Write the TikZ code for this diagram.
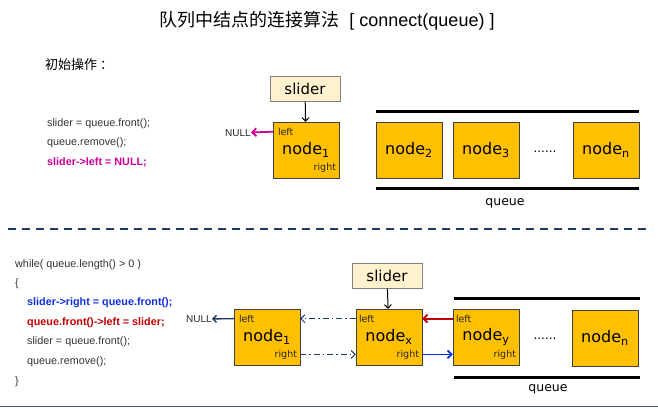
\documentclass[tikz,border=0pt]{standalone}
\usepackage{fontspec}
\setmainfont{Liberation Sans}
\newfontfamily\nodefont{DejaVu Sans}
\newfontfamily\cjkfont{Noto Sans CJK SC}
\usepackage{xcolor}
\definecolor{nodeamber}{HTML}{FFC000}
\definecolor{sliderfill}{HTML}{FFF2CC}
\definecolor{codemag}{HTML}{CC0099}
\definecolor{codeblue}{HTML}{1030E0}
\definecolor{codered}{HTML}{C00000}
\definecolor{navy}{HTML}{1F3864}
\definecolor{rulegray}{HTML}{4F5F6F}
\usetikzlibrary{positioning,arrows.meta}
\tikzset{
  qnode/.style ={rectangle, draw=black!75, fill=nodeamber, minimum width=66pt,
                 minimum height=56pt, inner sep=0pt, font=\nodefont\fontsize{16}{18}\selectfont},
  sbox/.style  ={rectangle, draw=black!50, fill=sliderfill, minimum width=70pt,
                 minimum height=25pt, inner sep=0pt, font=\nodefont\fontsize{15}{17}\selectfont},
  ptr/.style   ={font=\nodefont\fontsize{9.5}{10}\selectfont, text=black!85, inner sep=0pt},
  nul/.style   ={font=\fontsize{10}{11}\selectfont, text=black!85, inner sep=0pt, anchor=east},
  code/.style  ={font=\fontsize{10.8}{12}\selectfont, text=black!80, anchor=west, inner sep=0pt},
  qlbl/.style  ={font=\nodefont\fontsize{12.5}{14}\selectfont, inner sep=0pt},
  dots/.style  ={font=\nodefont\fontsize{12}{14}\selectfont, inner sep=0pt},
  rail/.style  ={line width=3pt},
  arr/.style   ={-{Straight Barb[length=4pt,width=8pt]}, line width=1.8pt},
  larr/.style  ={-{Straight Barb[length=3.5pt,width=7pt]}, line width=1pt},
  ddarr/.style ={-{Straight Barb[length=4pt,width=8pt]}, line width=1pt, navy,
                 dash pattern=on 6pt off 3pt on 1.5pt off 3pt},
}
\begin{document}
\begin{tikzpicture}[x=1pt,y=-1pt]
  \useasboundingbox (0,0) rectangle (658,409);
  % title and section heads
  \node[inner sep=0pt, font=\fontsize{18}{20}\selectfont] (title) at (327,21)
    {{\cjkfont 队列中结点的连接算法}\ \ [ connect(queue) ]};
  \node[inner sep=0pt, anchor=west, font=\cjkfont\fontsize{13}{15}\selectfont] (init) at (45,65) {初始操作\ ：};

  % --- initial step ---
  \node[code] (c1) at (47,124) {slider = queue.front();};
  \node[code] (c2) at (47,143) {queue.remove();};
  \node[code, text=codemag, font=\bfseries\fontsize{10.8}{12}\selectfont] (c3) at (47,162) {slider->left = NULL;};

  \node[sbox] (slidA) at (305,89) {slider};
  \node[qnode] (na1) at (306,150) {node\textsubscript{1}};
  \node[ptr, anchor=north west] (na1l) at ([xshift=5pt,yshift=-6pt]na1.north west) {left};
  \node[ptr, anchor=south east] (na1r) at ([xshift=-3pt,yshift=6pt]na1.south east) {right};
  \node[nul] (nullA) at (251,133) {NULL};
  \draw[larr] (slidA) -- (na1);
  \draw[arr, codemag] (na1.west |- na1l) -- (nullA);

  \node[qnode] (na2) at (409,150) {node\textsubscript{2}};
  \node[qnode] (na3) at (486,150) {node\textsubscript{3}};
  \node[dots] (dotsA) at (545,152) {......};
  \node[qnode] (nan) at (606,150) {node\textsubscript{n}};
  \coordinate (railA1) at (376,112);
  \coordinate (railA2) at (639,112);
  \coordinate (railA3) at (376,188);
  \coordinate (railA4) at (639,188);
  \draw[rail] (railA1) -- (railA2);
  \draw[rail] (railA3) -- (railA4);
  \node[qlbl] (queueA) at (505,203) {queue};

  % divider
  \coordinate (divL) at (8,229);
  \coordinate (divR) at (652,229);
  \draw[navy, line width=2.2pt, dash pattern=on 8pt off 6pt] (divL) -- (divR);

  % --- loop step ---
  \node[code] (w1) at (15,265) {while( queue.length() > 0 )};
  \node[code] (w2) at (15,284) {\{};
  \node[code, text=codeblue, font=\bfseries\fontsize{10.8}{12}\selectfont] (w3) at (27,303) {slider->right = queue.front();};
  \node[code, text=codered, font=\bfseries\fontsize{10.8}{12}\selectfont] (w4) at (27,323) {queue.front()->left = slider;};
  \node[code] (w5) at (27,342) {slider = queue.front();};
  \node[code] (w6) at (27,362) {queue.remove();};
  \node[code] (w7) at (15,382) {\}};

  \node[qnode] (nb1) at (267,337) {node\textsubscript{1}};
  \node[ptr, anchor=north west] (nb1l) at ([xshift=5pt,yshift=-6pt]nb1.north west) {left};
  \node[ptr, anchor=south east] (nb1r) at ([xshift=-3pt,yshift=6pt]nb1.south east) {right};
  \node[nul] (nullB) at (212,319) {NULL};
  \draw[larr, navy, line width=1.4pt] (nb1.west |- nb1l) -- (nullB);

  \node[sbox] (slidB) at (387,276) {slider};
  \node[qnode] (nbx) at (389,337) {node\textsubscript{x}};
  \node[ptr, anchor=north west] (nbxl) at ([xshift=3pt,yshift=-6pt]nbx.north west) {left};
  \node[ptr, anchor=south east] (nbxr) at ([xshift=-3pt,yshift=6pt]nbx.south east) {right};
  \draw[larr] (slidB) -- (nbx);

  \node[qnode] (nby) at (486,337) {node\textsubscript{y}};
  \node[ptr, anchor=north west] (nbyl) at ([xshift=3pt,yshift=-6pt]nby.north west) {left};
  \node[ptr, anchor=south east] (nbyr) at ([xshift=-3pt,yshift=6pt]nby.south east) {right};
  \node[dots] (dotsB) at (545,339) {......};
  \node[qnode] (nbn) at (605,338) {node\textsubscript{n}};

  \draw[ddarr] (nbx.west |- nbxl) -- (nb1.east |- nbxl);
  \draw[ddarr] (nb1.east |- nb1r) -- (nbx.west |- nb1r);
  \draw[arr, codered] (nby.west |- nbyl) -- (nbx.east |- nbyl);
  \draw[arr, codeblue] (nbx.east |- nbxr) -- (nby.west |- nbxr);

  \coordinate (railB1) at (454,298);
  \coordinate (railB2) at (640,298);
  \coordinate (railB3) at (454,377);
  \coordinate (railB4) at (640,377);
  \draw[rail] (railB1) -- (railB2);
  \draw[rail] (railB3) -- (railB4);
  \node[qlbl] (queueB) at (548,389) {queue};

  % bottom rule
  \coordinate (ruleL) at (0,406.5);
  \coordinate (ruleR) at (658,406.5);
  \draw[rulegray, line width=1.5pt] (ruleL) -- (ruleR);
\end{tikzpicture}
\end{document}
